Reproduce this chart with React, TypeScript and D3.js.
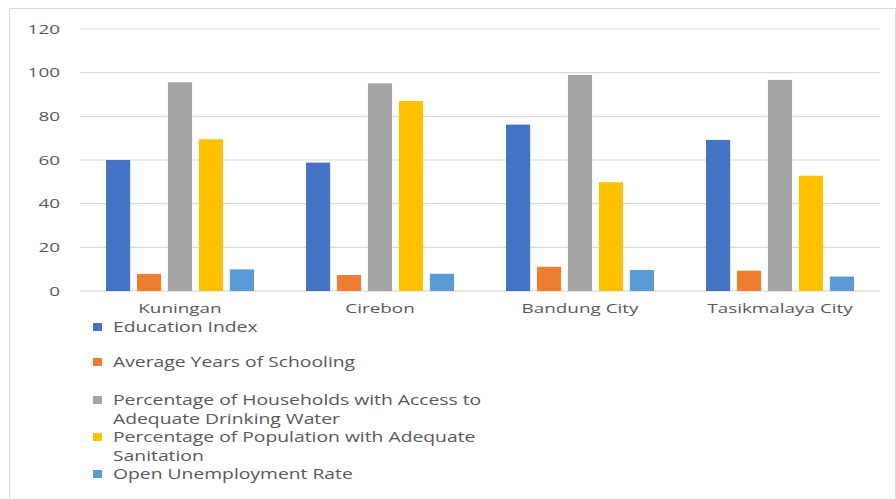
import React from "react";
import * as d3 from "d3";

const categories = ["Kuningan", "Cirebon", "Bandung City", "Tasikmalaya City"];
const seriesNames = [
  "Education Index",
  "Average Years of Schooling",
  "Percentage of Households with Access to Adequate Drinking Water",
  "Percentage of Population with Adequate Sanitation",
  "Open Unemployment Rate",
];
const legendLines = [
  ["Education Index"],
  ["Average Years of Schooling"],
  ["Percentage of Households with Access to", "Adequate Drinking Water"],
  ["Percentage of Population with Adequate", "Sanitation"],
  ["Open Unemployment Rate"],
];
const educationIndex = [60, 58.8, 76.2, 69.2];
const avgYearsSchooling = [7.8, 7.3, 11.1, 9.3];
const drinkingWater = [95.6, 95.1, 98.9, 96.7];
const sanitation = [69.5, 87, 49.8, 52.8];
const unemployment = [9.9, 7.9, 9.6, 6.6];
const seriesValues = [educationIndex, avgYearsSchooling, drinkingWater, sanitation, unemployment];
const colors = ["#4472C4", "#ED7D31", "#A5A5A5", "#FFC000", "#5B9BD5"];
const yTicks = [0, 20, 40, 60, 80, 100, 120];

const SX = 1.4;

function T(props: { x: number; y: number; anchor?: string; size: number; children: React.ReactNode }) {
  return (
    <text
      transform={`translate(${props.x},${props.y}) scale(${SX},1)`}
      dy="0.35em"
      textAnchor={props.anchor || "start"}
      fontFamily="'Open Sans', sans-serif"
      fontSize={props.size}
      fill="#595959"
    >
      {props.children}
    </text>
  );
}

export default function App() {
  const W = 896, H = 499;
  const left = 80, right = 880, top = 29, bottom = 291;
  const x0 = d3.scaleBand().domain(categories).range([left, right]).paddingInner(0).paddingOuter(0);
  const groupW = 148;
  const x1 = d3.scaleBand().domain(seriesNames).range([0, groupW]).paddingInner(0.22).paddingOuter(0);
  const y = d3.scaleLinear().domain([0, 120]).range([bottom, top]);
  const legendY = [327, 362, 400, 437, 474];
  return (
    <div style={{ position: "absolute", left: 0, top: 0 }}>
      <svg width={W} height={H} style={{ display: "block" }}>
        <rect x={0} y={0} width={W} height={H} fill="#fff" />
        <rect x={9.5} y={8.5} width={886} height={500} fill="#fff" stroke="#d9d9d9" />
        {yTicks.map((t) => (
          <g key={t}>
            <line x1={left} x2={right} y1={y(t)} y2={y(t)} stroke={t === 0 ? "#d0d0d0" : "#d9d9d9"} strokeWidth={1.2} />
            <T x={60} y={y(t)} anchor="end" size={13.5}>{t}</T>
          </g>
        ))}
        {categories.map((c, ci) => {
          const gx = (x0(c) as number) + (x0.bandwidth() - groupW) / 2;
          return (
            <g key={c}>
              {seriesNames.map((s, si) => (
                <rect key={s} x={gx + (x1(s) as number)} y={y(seriesValues[si][ci])} width={x1.bandwidth()} height={y(0) - y(seriesValues[si][ci])} fill={colors[si]} />
              ))}
              <T x={(x0(c) as number) + x0.bandwidth() / 2} y={308.5} anchor="middle" size={13.5}>{c}</T>
            </g>
          );
        })}
        {legendLines.map((lines, i) => (
          <g key={i}>
            <rect x={93} y={legendY[i] - 4} width={9} height={8} fill={colors[i]} />
            {lines.map((ln, li) => (
              <T key={li} x={113} y={legendY[i] + li * 19} size={13.8}>{ln}</T>
            ))}
          </g>
        ))}
      </svg>
    </div>
  );
}
